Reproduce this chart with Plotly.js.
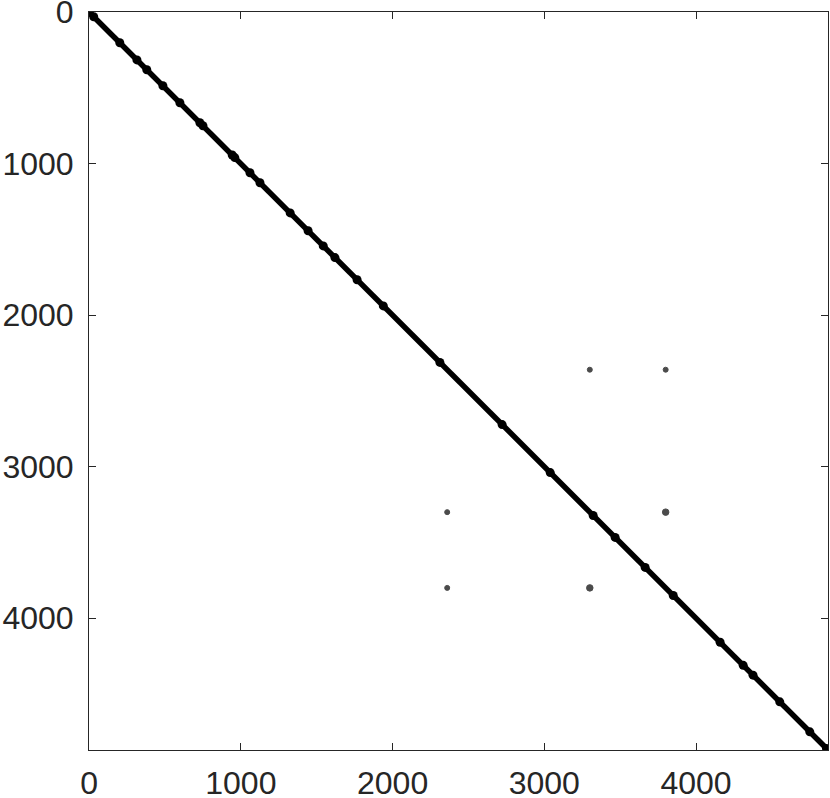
<!DOCTYPE html>
<html>
<head>
<meta charset="utf-8">
<script src="https://cdn.plot.ly/plotly-3.0.1.min.js"></script>
<style>
  html, body { margin: 0; padding: 0; background: #ffffff; }
  #plot { width: 830px; height: 798px; }
</style>
</head>
<body>
<div id="plot"></div>
<script>
// matrix size (square, sparse)
const matrixSize = 4868;

// main diagonal, first and last index
const diagIdx = [1, 4868];

// places where the diagonal band gets thicker
const bumpIdx = [1, 30, 202, 315, 380, 486, 598, 730, 750, 943, 960, 1060, 1126, 1325, 1443,
  1543, 1620, 1766, 1939, 2312, 2722, 3039, 3322, 3467, 3665, 3850, 4159, 4311,
  4376, 4552, 4750, 4860];

// off-diagonal entries (column, row)
const offCols = [3300, 3800, 2360, 3800, 2360, 3300];
const offRows = [2360, 2360, 3300, 3300, 3800, 3800];
const offSize = [5, 5, 5, 6.5, 5, 6.5];

const tickVals = [0, 1000, 2000, 3000, 4000];

const axisColor = "#262626";
const tickFont = { family: "Liberation Sans, Arial, sans-serif", size: 32, color: axisColor };

// Diagonal line
const diagTrace = {
  x: diagIdx,
  y: diagIdx,
  mode: "lines",
  type: "scatter",
  line: { color: "#000000", width: 5.5 },
  hoverinfo: "skip",
};

// Thicker blobs on the diagonal
const bumpTrace = {
  x: bumpIdx,
  y: bumpIdx,
  mode: "markers",
  type: "scatter",
  marker: { size: 9, color: "#000000", line: { width: 0 } },
  hoverinfo: "skip",
};

// Off-diagonal nonzeros
const offTrace = {
  x: offCols,
  y: offRows,
  mode: "markers",
  type: "scatter",
  marker: { size: offSize, color: "#000000", line: { width: 1, color: "#000000" } },
  hoverinfo: "skip",
};

const axisBase = {
  tickmode: "array",
  tickvals: tickVals,
  ticktext: tickVals.map(String),
  ticks: "inside",
  ticklen: 7,
  tickwidth: 1,
  tickcolor: axisColor,
  showline: true,
  linecolor: axisColor,
  linewidth: 1,
  mirror: "allticks",
  showgrid: false,
  zeroline: false,
  tickfont: tickFont,
  ticklabeloverflow: "allow",
  fixedrange: true,
};

const layout = {
  width: 830,
  height: 798,
  margin: { l: 89, r: 2, t: 12, b: 48, pad: 0 },
  paper_bgcolor: "#ffffff",
  plot_bgcolor: "#ffffff",
  showlegend: false,
  xaxis: Object.assign({}, axisBase, { range: [-1, matrixSize + 2], ticklabelstandoff: 5 }),
  yaxis: Object.assign({}, axisBase, { range: [matrixSize + 2, -1], ticklabelstandoff: 8 }),
};

Plotly.newPlot("plot", [diagTrace, bumpTrace, offTrace], layout, { displayModeBar: false, staticPlot: true });
</script>
</body>
</html>
